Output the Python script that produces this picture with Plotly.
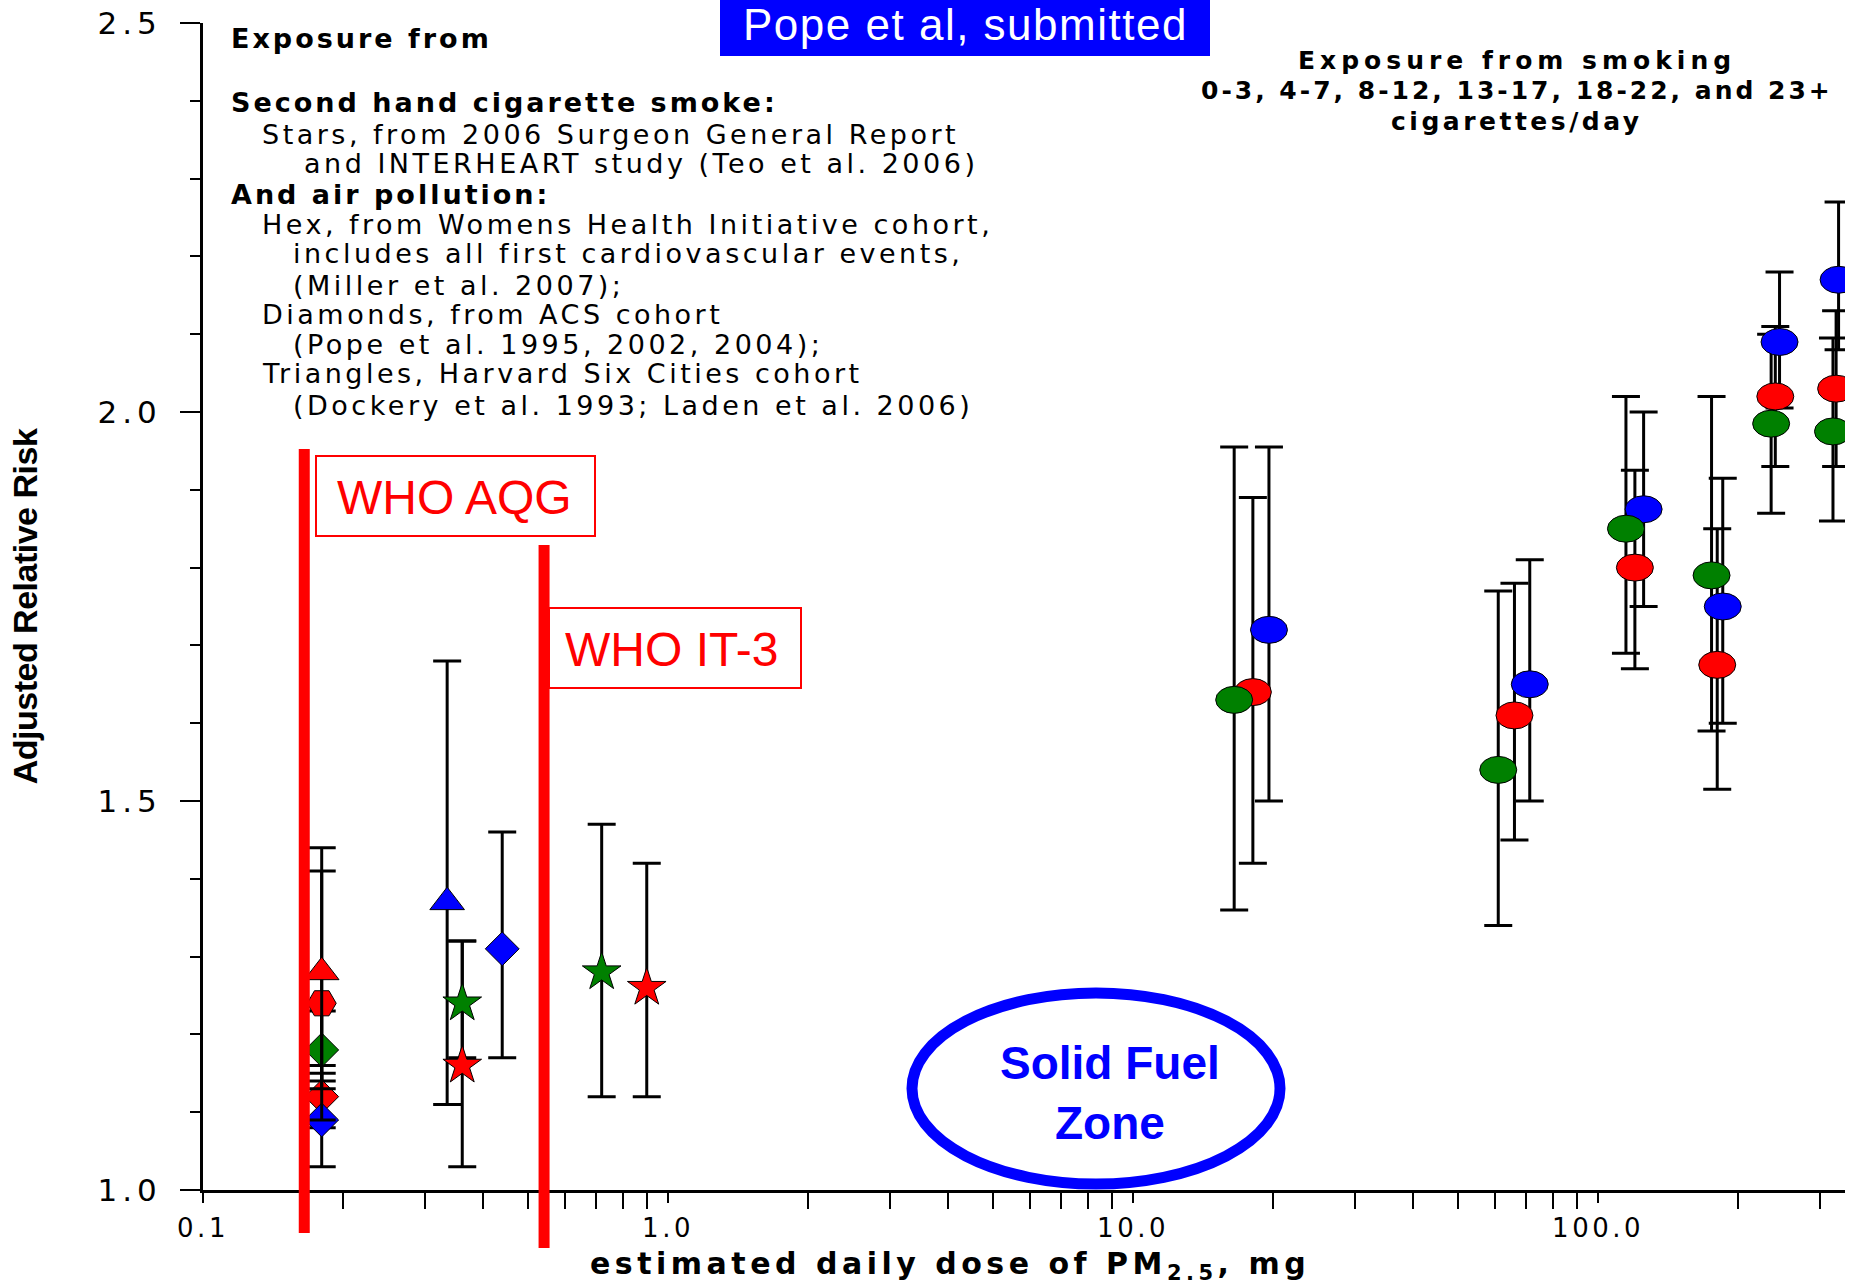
import plotly.graph_objects as go

# ---------------- data ----------------
# Active smoking: cigarettes/day groups, dose of PM2.5 (mg/day), adjusted RR and 95% CI
smoking_groups = ["0-3", "4-7", "8-12", "13-17", "18-22", "23+"]
smoke_dose_green = [16.5, 61.0, 114.8, 175.4, 235.6, 320.0]
smoke_rr_green = [1.63, 1.54, 1.85, 1.79, 1.985, 1.975]
smoke_lo_green = [1.36, 1.34, 1.69, 1.59, 1.87, 1.86]
smoke_hi_green = [1.955, 1.77, 2.02, 2.02, 2.10, 2.095]

smoke_dose_red = [18.1, 66.1, 120.0, 180.4, 240.5, 325.0]
smoke_rr_red = [1.64, 1.61, 1.80, 1.675, 2.02, 2.03]
smoke_lo_red = [1.42, 1.45, 1.67, 1.515, 1.93, 1.93]
smoke_hi_red = [1.89, 1.78, 1.925, 1.85, 2.11, 2.13]

smoke_dose_blue = [19.6, 71.3, 125.3, 185.4, 245.6, 329.0]
smoke_rr_blue = [1.72, 1.65, 1.875, 1.75, 2.09, 2.17]
smoke_lo_blue = [1.50, 1.50, 1.75, 1.60, 2.005, 2.08]
smoke_hi_blue = [1.955, 1.81, 2.00, 1.915, 2.18, 2.27]

# Second hand smoke (stars)
star_dose = [0.361, 0.361, 0.72, 0.90]
star_rr = [1.24, 1.16, 1.28, 1.26]
star_lo = [1.17, 1.03, 1.12, 1.12]
star_hi = [1.32, 1.32, 1.47, 1.42]
star_colors = ["#008000", "#FF0000", "#008000", "#FF0000"]

# Womens Health Initiative (hex)
hex_dose = [0.18]
hex_rr = [1.24]
hex_lo = [1.09]
hex_hi = [1.41]
hex_colors = ["#FF0000"]

# ACS cohort (diamonds)
dia_dose = [0.18, 0.18, 0.18, 0.44]
dia_rr = [1.18, 1.12, 1.09, 1.31]
dia_lo = [1.14, 1.08, 1.03, 1.17]
dia_hi = [1.23, 1.15, 1.16, 1.46]
dia_colors = ["#008000", "#FF0000", "#0000FF", "#0000FF"]

# Harvard Six Cities (triangles)
tri_dose = [0.18, 0.335]
tri_rr = [1.28, 1.37]
tri_lo = [1.13, 1.11]
tri_hi = [1.44, 1.68]
tri_colors = ["#FF0000", "#0000FF"]

# WHO guideline doses (mg/day)
who_aqg_dose = 0.1651
who_it3_dose = 0.5413

x_tick_vals = [0.1, 1, 10, 100]
x_tick_labels = ["0.1", "1.0", "10.0", "100.0"]
y_tick_vals = [1.0, 1.5, 2.0, 2.5]
y_tick_labels = ["1.0", "1.5", "2.0", "2.5"]

# ---------------- layout helpers ----------------
W, H = 1855, 1285
ML, MR, MT, MB = 203, 10, 23, 95
PW = W - ML - MR
PH = H - MT - MB
X_RANGE = [-1, 2.531]
Y_RANGE = [1.0, 2.5]
DEC_PX = PW / (X_RANGE[1] - X_RANGE[0])   # pixels per decade
Y_PX = PH / (Y_RANGE[1] - Y_RANGE[0])      # pixels per RR unit
ELL_RX, ELL_RY = 18.5, 13.5                # ellipse marker half sizes (px)


def px(x):
    return (x - ML) / PW


def py(y):
    return (H - MB - y) / PH


def spaced(text, ls):
    return '<span style="letter-spacing:%spx">%s</span>' % (ls, text)


def err(rr, lo, hi):
    return dict(type="data", symmetric=False,
                array=[h - r for r, h in zip(rr, hi)],
                arrayminus=[r - l for r, l in zip(rr, lo)],
                color="black", thickness=3, width=14)


fig = go.Figure()

# left group (second-hand smoke and air pollution)
for dose, rr, lo, hi, cols, sym, size in [
    (dia_dose, dia_rr, dia_lo, dia_hi, dia_colors, "diamond", 26),
    (hex_dose, hex_rr, hex_lo, hex_hi, hex_colors, "hexagon2", 29),
    (tri_dose, tri_rr, tri_lo, tri_hi, tri_colors, "triangle-up", 30),
    (star_dose, star_rr, star_lo, star_hi, star_colors, "star", 29),
]:
    fig.add_trace(go.Scatter(
        x=dose, y=rr, mode="markers",
        marker=dict(symbol=sym, size=size, color=cols, line=dict(color="black", width=1)),
        error_y=err(rr, lo, hi), cliponaxis=False, showlegend=False))

# smoking error bars (markers drawn as ellipses below)
smoke_series = [
    (smoke_dose_blue, smoke_rr_blue, smoke_lo_blue, smoke_hi_blue, "#0000FF"),
    (smoke_dose_red, smoke_rr_red, smoke_lo_red, smoke_hi_red, "#FF0000"),
    (smoke_dose_green, smoke_rr_green, smoke_lo_green, smoke_hi_green, "#008000"),
]
for dose, rr, lo, hi, col in smoke_series:
    fig.add_trace(go.Scatter(
        x=dose, y=rr, mode="markers", text=smoking_groups,
        marker=dict(size=2, color="rgba(0,0,0,0)"),
        error_y=err(rr, lo, hi), showlegend=False))

shapes = []
fx = 10 ** (ELL_RX / DEC_PX)
dy = ELL_RY / Y_PX
for dose, rr, lo, hi, col in smoke_series:
    for xv, yv in zip(dose, rr):
        shapes.append(dict(type="circle", xref="x", yref="y",
                           x0=xv / fx, x1=xv * fx, y0=yv - dy, y1=yv + dy,
                           fillcolor=col, line=dict(color="black", width=1), layer="above"))

# WHO lines
shapes.append(dict(type="line", xref="x", yref="paper", x0=who_aqg_dose, x1=who_aqg_dose,
                   y0=py(1233), y1=py(449), line=dict(color="#FF0000", width=11), layer="above"))
shapes.append(dict(type="line", xref="x", yref="paper", x0=who_it3_dose, x1=who_it3_dose,
                   y0=py(1248), y1=py(545), line=dict(color="#FF0000", width=11), layer="above"))
# WHO boxes
shapes.append(dict(type="rect", xref="paper", yref="paper", x0=px(316), x1=px(595),
                   y0=py(536), y1=py(456), line=dict(color="#FF0000", width=2)))
shapes.append(dict(type="rect", xref="paper", yref="paper", x0=px(549), x1=px(801),
                   y0=py(688), y1=py(608), line=dict(color="#FF0000", width=2)))
# Pope box
shapes.append(dict(type="rect", xref="paper", yref="paper", x0=px(720), x1=px(1210),
                   y0=py(56), y1=py(-10), fillcolor="#0000FF", line=dict(width=0)))
# Solid fuel ellipse
shapes.append(dict(type="circle", xref="paper", yref="paper", x0=px(912), x1=px(1280),
                   y0=py(1184), y1=py(993), line=dict(color="#0000FF", width=11)))

annotations = []
left_lines = [
    ("Exposure from", 229, 39, True),
    ("Second hand cigarette smoke:", 229, 103, True),
    ("Stars, from 2006 Surgeon General Report", 260, 134, False),
    ("and INTERHEART study (Teo et al. 2006)", 302, 163, False),
    ("And air pollution:", 229, 194, True),
    ("Hex, from Womens Health Initiative cohort,", 260, 225, False),
    ("includes all first cardiovascular events,", 291, 254, False),
    ("(Miller et al. 2007);", 291, 285, False),
    ("Diamonds, from ACS cohort", 260, 315, False),
    ("(Pope et al. 1995, 2002, 2004);", 291, 344, False),
    ("Triangles, Harvard Six Cities cohort", 260, 374, False),
    ("(Dockery et al. 1993; Laden et al. 2006)", 291, 405, False),
]
for t, xx, yy, bold in left_lines:
    txt = "<b>" + spaced(t, 3) + "</b>" if bold else spaced(t, 3.5)
    annotations.append(dict(x=px(xx), y=py(yy), xref="paper", yref="paper",
                            xanchor="left", yanchor="middle", showarrow=False, text=txt,
                            font=dict(family="DejaVu Sans", size=27, color="black")))

right_lines = [
    ("Exposure from smoking", 60, 5),
    ("0-3, 4-7, 8-12, 13-17, 18-22, and 23+", 91, 3),
    ("cigarettes/day", 122, 3.5),
]
for t, yy, ls in right_lines:
    annotations.append(dict(x=px(1517), y=py(yy), xref="paper", yref="paper",
                            xanchor="center", yanchor="middle", showarrow=False,
                            text="<b>" + spaced(t, ls) + "</b>",
                            font=dict(family="DejaVu Sans", size=25, color="black")))

annotations.append(dict(x=px(965), y=py(24.6), xref="paper", yref="paper",
                        xanchor="center", yanchor="middle", showarrow=False, borderpad=0,
                        text=spaced("Pope et al, submitted", 1.5),
                        font=dict(family="Liberation Sans", size=44, color="white")))
annotations.append(dict(x=px(454), y=py(497), xref="paper", yref="paper",
                        xanchor="center", yanchor="middle", showarrow=False,
                        text="WHO AQG",
                        font=dict(family="Liberation Sans", size=48, color="#FF0000")))
annotations.append(dict(x=px(671.5), y=py(649), xref="paper", yref="paper",
                        xanchor="center", yanchor="middle", showarrow=False,
                        text="WHO IT-3",
                        font=dict(family="Liberation Sans", size=48, color="#FF0000")))
annotations.append(dict(x=px(1110), y=py(1093), xref="paper", yref="paper",
                        xanchor="center", yanchor="middle", showarrow=False,
                        text="<b>Solid Fuel<br>Zone</b>",
                        font=dict(family="Liberation Sans", size=46, color="#0000FF")))
# x-axis title (centred under the reference's position, not the plot centre)
annotations.append(dict(x=px(950), y=py(1245), xref="paper", yref="paper",
                        xanchor="center", yanchor="top", showarrow=False, borderpad=0,
                        text="<b>" + spaced("estimated daily dose of PM<sub>2.5</sub>, mg", 4.5) + "</b>",
                        font=dict(family="DejaVu Sans", size=30, color="black")))

x_minor = [m * 10 ** e for e in (-1, 0, 1, 2) for m in range(2, 10) if m * 10 ** e <= 340]
y_minor = [round(1 + 0.1 * i, 1) for i in range(1, 15) if i % 5]

fig.update_layout(
    width=W, height=H,
    margin=dict(l=ML, r=MR, t=MT, b=MB, autoexpand=False),
    paper_bgcolor="white", plot_bgcolor="white",
    showlegend=False,
    shapes=shapes, annotations=annotations,
    xaxis=dict(
        type="log", range=X_RANGE, showgrid=False, zeroline=False,
        showline=True, linecolor="black", linewidth=3,
        ticks="outside", ticklen=10, tickwidth=2, tickcolor="black",
        tickmode="array", tickvals=x_tick_vals,
        ticktext=[spaced(t, 3.5) for t in x_tick_labels],
        tickfont=dict(family="DejaVu Sans", size=26, color="black"),
        ticklabelstandoff=3,
        minor=dict(tickmode="array", tickvals=x_minor, ticks="outside", ticklen=16,
                   tickwidth=2, tickcolor="black", showgrid=False),
        automargin=False,
    ),
    yaxis=dict(
        range=Y_RANGE, showgrid=False, zeroline=False,
        showline=True, linecolor="black", linewidth=3,
        ticks="outside", ticklen=20, tickwidth=2, tickcolor="black",
        tickmode="array", tickvals=y_tick_vals,
        ticktext=[spaced(t, 5) for t in y_tick_labels],
        tickfont=dict(family="DejaVu Sans", size=31, color="black"),
        ticklabelstandoff=12,
        minor=dict(tickmode="array", tickvals=y_minor, ticks="outside", ticklen=10,
                   tickwidth=2, tickcolor="black", showgrid=False),
        title=dict(text="<b>" + spaced("Adjusted Relative Risk", -0.5) + "</b>",
                   font=dict(family="Liberation Sans", size=34, color="black"), standoff=50),
        automargin=False,
    ),
)

fig.write_html("out.html", config={"displayModeBar": False},
               post_script="document.body.style.margin='0px';document.body.style.overflow='hidden';")
